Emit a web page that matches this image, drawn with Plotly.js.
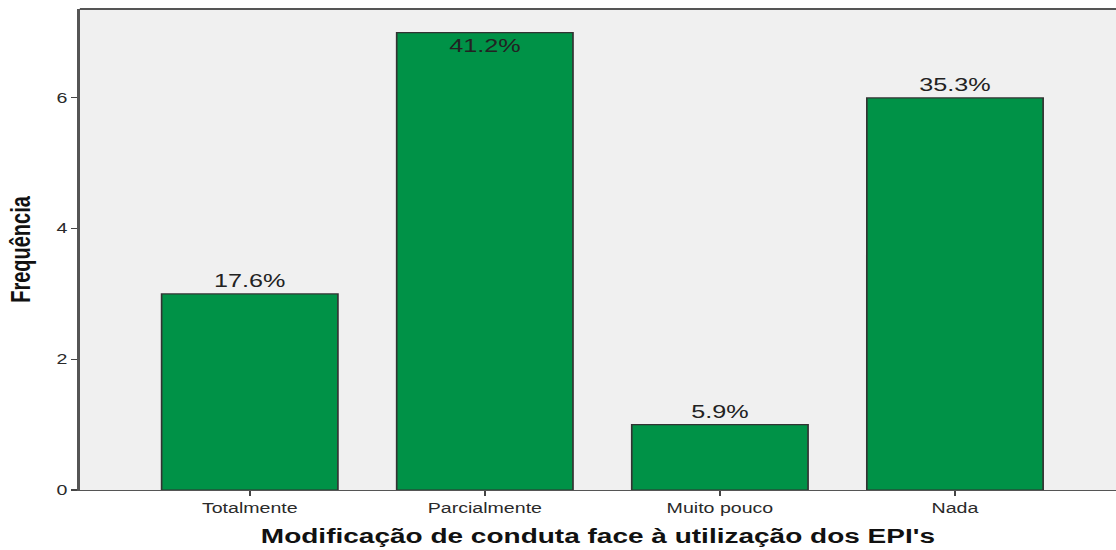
<!DOCTYPE html>
<html>
<head>
<meta charset="utf-8">
<script src="https://cdn.plot.ly/plotly-3.0.1.min.js"></script>
<style>
  html, body { margin: 0; padding: 0; background: #ffffff; overflow: hidden; }
  /* the chart is laid out narrow and widened to the full page width */
  #chart { width: 797px; height: 550px; transform: scaleX(1.40025); transform-origin: 0 0; }
</style>
</head>
<body>
<div id="chart"></div>
<script>
// Respostas: modificação de conduta face à utilização dos EPI's
const categories = ['Totalmente', 'Parcialmente', 'Muito pouco', 'Nada'];
const frequencies = [3, 7, 1, 6];
const yTicks = [0, 2, 4, 6];

const total = frequencies.reduce((a, b) => a + b, 0);
const percentLabels = frequencies.map(v => (v / total * 100).toFixed(1) + '%');
const positions = categories.map((_, i) => i);

const labelFont = { family: 'Liberation Sans, Arial, sans-serif', size: 18, color: '#222222' };

const trace = {
  type: 'bar',
  x: positions,
  y: frequencies,
  width: 0.75,
  text: percentLabels,
  textposition: ['outside', 'inside', 'outside', 'outside'],
  insidetextanchor: 'end',
  textfont: labelFont,
  insidetextfont: labelFont,
  outsidetextfont: labelFont,
  cliponaxis: false,
  constraintext: 'none',
  marker: { color: '#009247', line: { color: '#333333', width: 1.2 } },
  hoverinfo: 'none'
};

const layout = {
  width: 797,
  height: 550,
  margin: { l: 57, r: 0, t: 9, b: 60 },
  paper_bgcolor: '#ffffff',
  plot_bgcolor: '#f0f0f0',
  showlegend: false,
  font: { family: 'Liberation Sans, Arial, sans-serif', color: '#333333' },
  xaxis: {
    range: [-0.723, 3.685],
    tickvals: positions,
    ticktext: categories,
    ticks: 'outside',
    ticklen: 5,
    tickwidth: 1.2,
    tickcolor: '#444444',
    tickfont: { size: 14, color: '#2a2a2a' },
    showgrid: false,
    zeroline: false,
    showline: true,
    linecolor: '#555555',
    linewidth: 1,
    title: {
      text: "Modificação de conduta face à utilização dos EPI's",
      font: { family: 'Liberation Sans, Arial, sans-serif', size: 20, color: '#111111', weight: 'bold' },
      standoff: 14
    }
  },
  yaxis: {
    range: [0, 7.36],
    tickvals: yTicks,
    ticktext: yTicks.map(String),
    ticks: 'outside',
    ticklen: 4,
    tickwidth: 1.2,
    tickcolor: '#444444',
    tickfont: { size: 14, color: '#2a2a2a' },
    showgrid: false,
    zeroline: false,
    showline: true,
    linecolor: '#555555',
    linewidth: 2,
    title: {
      text: 'Frequência',
      font: { family: 'Liberation Sans, Arial, sans-serif', size: 20, color: '#111111', weight: 'bold' },
      standoff: 13
    }
  },
  shapes: [
    // moldura superior da área do gráfico
    { type: 'line', xref: 'paper', yref: 'paper', x0: 0, x1: 1, y0: 1, y1: 1,
      line: { color: '#555555', width: 2 } }
  ]
};

Plotly.newPlot('chart', [trace], layout, { displayModeBar: false, staticPlot: true });
</script>
</body>
</html>
